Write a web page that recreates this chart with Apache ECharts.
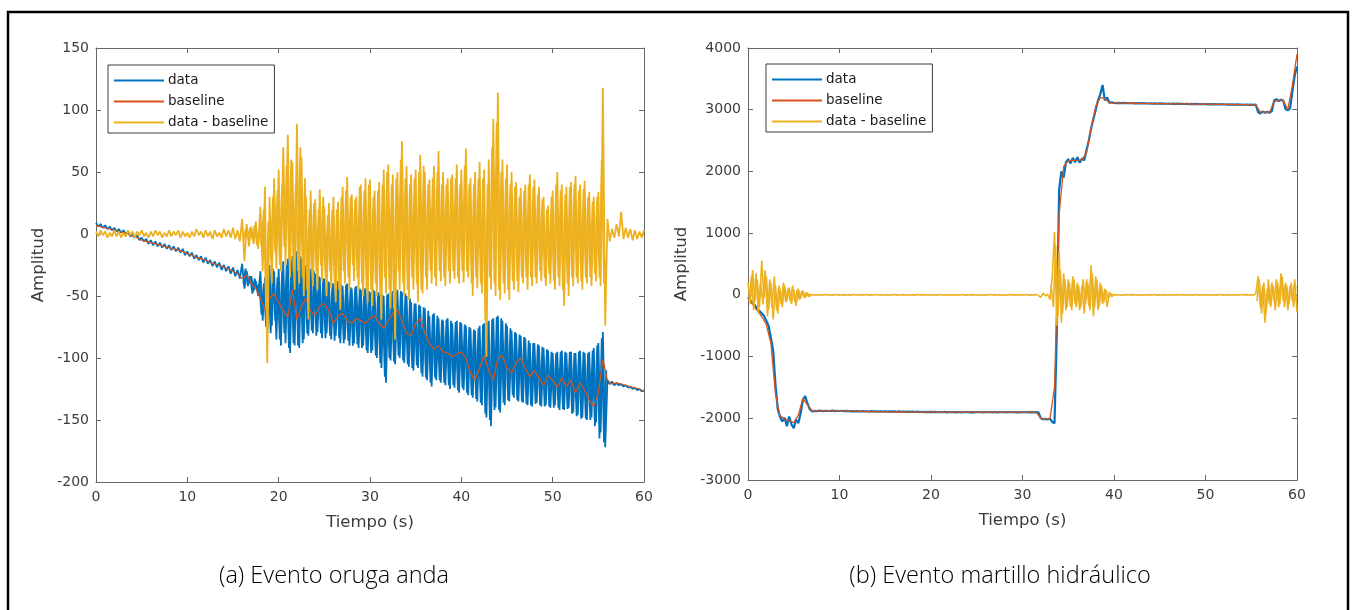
<!DOCTYPE html>
<html>
<head>
<meta charset="utf-8">
<script src="https://cdn.jsdelivr.net/npm/echarts@6/dist/echarts.min.js"></script>
<style>
html,body{margin:0;padding:0;background:#fff;}
#chart{width:1355px;height:610px;}
</style>
</head>
<body>
<div id="chart"></div>
<script>
// ---------------- DATA ----------------
const seriesNames = ['data', 'baseline', 'data - baseline'];
const xTicks = [0, 10, 20, 30, 40, 50, 60];
const yTicksA = [-200, -150, -100, -50, 0, 50, 100, 150];
const yTicksB = [-3000, -2000, -1000, 0, 1000, 2000, 3000, 4000];
const captions = ['(a) Evento oruga anda', '(b) Evento martillo hidráulico'];
const sampleStepFine = 0.25;   // s, for data / data - baseline
const sampleStepCoarse = 0.5;  // s, for baseline
const midStartA = 16.125;      // s, first in-between sample of the dense part of (a)
const midStartsB = [0.125, 33.125, 55.625]; // s, in-between samples of the bursts of (b)

// (a) Evento oruga anda -- data (0.25 s samples)
const dataA = [
  9,6,8,5,7,4,6,3,5,2,
  4,1,3,0,2,-2,0,-3,-1,-5,
  -3,-6,-4,-8,-5,-9,-6,-10,-7,-11,
  -8,-12,-9,-13,-10,-14,-11,-15,-12,-17,
  -14,-18,-15,-20,-17,-21,-18,-23,-19,-24,
  -21,-26,-22,-27,-23,-29,-25,-30,-26,-32,
  -27,-34,-29,-36,
  -24,-44,-30,-40,-34,-46,-38,-50,
  -30,-70,-35,-80,
  -25,-74,-30,-85,
  -28,-90,-22,-88,
  -20,-96,-18,-90,
  -14,-92,-20,-85,
  -30,-82,-28,-80,
  -32,-79,-35,-84,
  -36,-80,-39,-85,
  -40,-82,-38,-88,
  -42,-85,-40,-90,
  -44,-88,-42,-92,
  -45,-90,-44,-96,
  -47,-94,-46,-100,
  -48,-108,-50,-120,
  -48,-102,-46,-105,
  -45,-100,-47,-104,
  -50,-107,-55,-110,
  -56,-108,-58,-115,
  -60,-118,-66,-123,
  -64,-118,-68,-120,
  -70,-122,-68,-125,
  -72,-124,-70,-128,
  -72,-126,-74,-130,
  -76,-132,-78,-135,
  -74,-138,-72,-148,
  -70,-155,-68,-140,
  -66,-144,-70,-138,
  -74,-135,-78,-132,
  -80,-135,-82,-136,
  -84,-138,-88,-139,
  -88,-136,-90,-139,
  -92,-138,-94,-140,
  -96,-138,-95,-142,
  -94,-142,-96,-140,
  -95,-144,-96,-146,
  -94,-148,-96,-150,
  -95,-148,-92,-152,
  -88,-160,-79,-172,
  -118,-121,-119,-122,-120,-122,-121,-123,-122,-124,-123,-125,-124,-126,-125,-127,-126
];
// (a) data, in-between samples of the dense part (16.125 s .. 55.875 s, every 0.25 s)
const dataAMid = [
  -40,-28,-42,-34,  -48,-36,-44,-40,  -65,-40,-75,-30,  -80,-28,-70,-35,
  -85,-30,-80,-25,  -92,-22,-88,-16,  -90,-18,-88,-25,  -80,-32,-78,-30,
  -82,-34,-80,-36,  -84,-38,-82,-40,  -86,-39,-84,-41,  -88,-41,-86,-43,
  -90,-43,-89,-44,  -92,-44,-94,-46,  -96,-45,-98,-47,  -104,-49,-115,-49,
  -100,-47,-103,-46,  -98,-46,-102,-48,  -105,-52,-108,-56,  -106,-57,-112,-59,
  -116,-62,-120,-65,  -116,-66,-118,-69,  -120,-69,-122,-70,  -122,-71,-126,-71,
  -124,-73,-128,-75,  -130,-77,-133,-76,  -136,-73,-145,-71,  -150,-69,-142,-67,
  -142,-68,-136,-72,  -134,-76,-130,-79,  -134,-81,-135,-83,  -137,-86,-138,-88,
  -137,-89,-138,-91,  -139,-93,-139,-95,  -140,-96,-140,-95,  -141,-95,-141,-95,
  -145,-96,-147,-95,  -149,-95,-149,-96,  -150,-94,-155,-90,  -165,-84,-168,-110
];
// (a) baseline (0.5 s samples)
const baselineA = [
  7,6,5,4,3,2,1,0,-2,-3,
  -5,-6,-7,-8,-9,-10,-11,-12,-13,-14,
  -16,-17,-19,-20,-21,-23,-24,-25,-27,-28,
  -30,-32,-36,-33,-40,-44,-52,-61,-52,-48,
  -55,-62,-67,-45,-69,-58,-52,-62,-66,-58,
  -56,-62,-72,-66,-64,-70,-72,-68,-70,-72,
  -68,-66,-72,-76,-70,-64,-61,-70,-80,-82,
  -72,-68,-80,-88,-93,-90,-95,-96,-99,-97,
  -95,-100,-112,-118,-108,-98,-110,-118,-100,-98,
  -108,-112,-104,-100,-108,-115,-110,-116,-122,-114,
  -118,-124,-116,-123,-118,-128,-120,-126,-134,-139,
  -128,-101,-118,-121,-120,-121,-122,-123,-124,-125,
  -127
];
// (a) data - baseline (0.25 s samples)
const diffA = [
  2,-2,3,-1,2,-3,1,-2,3,-2,
  2,-3,1,-2,3,-1,2,-3,2,-1,
  3,-2,1,-3,2,-2,3,-1,2,-3,
  1,-2,3,-2,2,-1,3,-3,2,-2,
  1,-3,2,-2,4,-1,2,-3,3,-2,
  2,-4,3,-2,1,-3,4,-2,3,-3,
  5,-4,3,-6,
  12,-22,8,-10,6,-8,10,-12,
  22,-30,38,-104,
  30,-40,45,-28,
  52,-30,70,-25,
  80,-35,58,-45,
  89,-40,62,-50,
  30,-69,35,-42,
  28,-45,36,-38,
  22,-50,25,-44,
  30,-55,26,-61,
  38,-40,46,-45,
  32,-38,30,-45,
  40,-50,45,-55,
  44,-58,35,-50,
  42,-69,52,-48,
  56,-60,48,-85,
  50,-45,75,-50,
  55,-53,48,-45,
  52,-55,64,-48,
  50,-45,44,-40,
  55,-42,67,-38,
  50,-42,45,-40,
  48,-36,56,-40,
  52,-39,69,-35,
  45,-50,50,-44,
  58,-48,52,-99,
  60,-45,93,-50,
  114,-53,60,-48,
  56,-53,50,-45,
  42,-47,37,-40,
  40,-45,48,-42,
  44,-40,38,-38,
  30,-42,23,-40,
  35,-45,50,-42,
  40,-58,38,-50,
  42,-42,47,-40,
  40,-45,43,-40,
  34,-42,30,-38,
  34,-42,118,-74,
  12,-6,4,-3,8,-2,18,-4,5,-3,4,-5,3,-4,2,-3,3
];
// (a) data - baseline, in-between samples (16.125 s .. 55.875 s, every 0.25 s)
const diffAMid = [
  -6,4,-3,5,  -4,7,-9,4,  -10,20,-60,10,  -20,30,-15,35,
  -25,40,-10,55,  -20,60,-30,40,  -30,70,-35,45,  -45,20,-30,25,
  -30,20,-25,30,  -35,15,-30,20,  -40,20,-45,30,  -30,35,-35,30,
  -25,28,-35,38,  -40,35,-45,40,  -45,30,-40,35,  -50,40,-35,50,
  -45,40,-60,45,  -30,60,-40,45,  -45,40,-35,45,  -40,50,-45,55,
  -35,40,-30,45,  -35,50,-30,40,  -35,40,-30,45,  -30,45,-35,40,
  -30,55,-30,40,  -40,40,-35,45,  -40,45,-70,40,  -35,70,-40,90,
  -45,50,-40,45,  -45,40,-38,38,  -38,30,-35,35,  -35,40,-35,38,
  -35,32,-30,28,  -35,20,-32,30,  -38,40,-35,35,  -45,32,-40,38,
  -35,40,-35,35,  -38,36,-35,30,  -35,26,-32,30,  -35,60,-40,-20
];

// (b) Evento martillo hidráulico -- data (0.25 s samples)
const dataB = [
  -40,-90,-140,-170,-230,-260,-300,-340,-420,-500,-700,-900,
  -1450,-1850,-1980,-2050,-1990,-2130,-1970,-2100,-2160,-2020,-2080,-1920,-1700,-1640,-1760,-1850,
  -1890,-1880,-1885,-1875,-1880,-1885,-1878,-1882,-1880,-1876,-1884,-1880,-1882,-1878,-1884,-1880,
  -1884,-1888,-1883,-1887,-1885,-1890,-1884,-1888,-1886,-1891,-1885,-1889,-1887,-1892,-1886,-1890,-1888,-1893,-1887,-1891,
  -1889,-1894,-1888,-1895,-1890,-1896,-1891,-1897,-1892,-1898,-1893,-1899,-1894,-1899,-1895,-1900,-1896,-1901,-1897,-1902,
  -1898,-1902,-1897,-1903,-1898,-1902,-1899,-1904,-1898,-1903,-1899,-1902,-1898,-1903,-1899,-1904,-1898,-1902,-1899,-1903,
  -1898,-1902,-1899,-1903,-1898,-1904,-1899,-1902,-1898,-1903,-1899,-1902,-1898,-1904,-1899,-1903,-1898,-1902,-1899,-1903,-1900,-1904,-1899,-1905,
  -2000,-2015,-2010,-2020,-2005,-2060,
  -2080,-600,
  1700,2000,1900,2150,
  2200,2130,2220,2150,2230,2140,2210,2180,
  2350,2500,2700,2850,
  3000,3150,3250,3400,
  3150,3200,3110,3120,
  3112,3108,3111,3107,3110,3106,3109,3105,3108,3104,3107,3103,3106,3102,3105,3101,3104,3100,3103,3099,
  3102,3098,3101,3097,3100,3096,3099,3095,3098,3094,3097,3093,3096,3092,3095,3091,3094,3090,3093,3089,
  3092,3088,3091,3087,3090,3086,3089,3085,3088,3084,3087,3083,3086,3082,3085,3081,3084,3080,3083,3079,3082,3078,3081,
  2960,2940,2970,2950,2965,
  2950,2980,
  3150,3170,3140,3160,3150,
  3010,2990,3020,
  3300,3550,3700
];
// (b) baseline (0.5 s samples)
const baselineB = [
  -60,-150,-250,-350,-480,-780,-1600,-1960,-2010,-2040,
  -2070,-1950,-1680,-1780,-1880,-1880,-1880,-1880,-1880,-1880,
  -1880,-1880,-1885,-1885,-1888,-1890,-1890,-1892,-1894,-1895,
  -1896,-1897,-1898,-1898,-1899,-1900,-1900,-1900,-1900,-1900,
  -1900,-1900,-1900,-1900,-1900,-1900,-1900,-1900,-1900,-1900,
  -1900,-1900,-1900,-1900,-1900,-1900,-1900,-1900,-1900,-1900,
  -1900,-1900,-1900,-1900,-2000,-2010,-2010,-1500,1300,2080,
  2170,2180,2180,2190,2300,2700,3050,3200,3180,3110,
  3110,3110,3108,3106,3105,3104,3103,3102,3100,3100,
  3099,3098,3097,3096,3095,3094,3093,3092,3091,3090,
  3090,3089,3088,3087,3086,3085,3084,3083,3082,3081,
  3080,3080,2960,2960,2960,3130,3150,3150,3000,3400,
  3900
];
// (b) data - baseline (0.25 s samples)
const diffB = [
  200,-150,400,-100,250,-200,550,-50,300,-250,200,-400,150,-300,100,-200,150,-100,120,-150,80,-180,100,-60,70,-50,30,-20,
  5,-4,3,-6,4,-3,5,-2,3,-4,6,-3,2,-5,4,-3,3,-4,5,-2,
  3,-5,4,-2,6,-4,3,-3,5,-2,4,-5,3,-4,2,-3,5,-4,3,-2,
  4,-3,2,-5,3,-4,6,-3,4,-2,3,-5,4,-3,2,-4,5,-3,3,-4,
  2,-3,4,-5,3,-2,5,-4,3,-3,4,-2,3,-5,2,-4,3,-3,5,-2,
  4,-3,3,-5,2,-4,5,-3,4,-2,3,-4,2,-3,5,-4,3,-5,8,-12,
  -40,30,-20,10,-80,300,1020,-500,
  700,-450,350,-250,
  250,-200,300,-150,
  200,-250,150,-300,
  250,-180,480,-350,
  300,-250,200,-150,
  100,-200,50,-30,
  4,-3,3,-5,2,-4,5,-3,4,-2,3,-4,2,-5,3,-3,4,-2,5,-4,
  3,-2,4,-5,3,-3,2,-4,5,-3,4,-2,3,-4,2,-3,5,-4,3,-2,
  4,-3,2,-5,3,-4,5,-2,3,-3,4,-5,2,-4,3,-3,5,-2,4,-3,3,-4,
  20,300,-200,150,-450,100,-150,200,-100,250,-200,350,-100,200,-250,150,-100,250,-280
];
// (b) data - baseline, in-between samples of the three bursts (every 0.25 s)
const diffBMid1 = [
  -100,300,-250,350,-300,200,-150,400,-350,250,-200,300,-250,150,
  -150,200,-120,100,-100,150,-120,80,-80,60,-40,40,-30,15
];
const diffBMid2 = [
  150,-200,800,-350,400,-300,250,-200,200,-250,250,-200,150,-200,
  250,-150,200,-250,350,-200,250,-200,150,-120,80,-60,20,-10
];
const diffBMid3 = [
  -100,250,-300,200,-300,250,-200,150,-250,200,-150,300,-200,150,-150,200,-200,150
];

// ---------------- CHART ----------------
function withTime(values, step, start) {
  const t0 = start || 0;
  return values.map((v, i) => [t0 + i * step, v]);
}
const colors = { data: '#0072BD', baseline: '#D95319', diff: '#EDB120' };
const tickFont = "'DejaVu Sans', 'Liberation Sans', sans-serif";
const axisCol = '#666666';
const textCol = '#3c3c3c';
const grids = [
  { left: 96, top: 48, width: 548, height: 434 },
  { left: 748, top: 48, width: 549, height: 432 }
];
const yTicksList = [yTicksA, yTicksB];
const widths = [
  { data: 1.8, base: 1.2, diff: 1.8 },
  { data: 2.2, base: 1.3, diff: 1.6 }
];

const xAxes = [], yAxes = [], series = [], legends = [];
[0, 1].forEach(g => {
  const baseX = {
    gridIndex: g, type: 'value', min: xTicks[0], max: xTicks[xTicks.length - 1],
    interval: xTicks[1] - xTicks[0],
    axisLine: { show: true, onZero: false, lineStyle: { color: axisCol, width: 1 } },
    axisTick: { show: true, inside: true, length: 5, lineStyle: { color: axisCol } },
    splitLine: { show: false }
  };
  xAxes.push(Object.assign({}, baseX, {
    position: 'bottom',
    axisLabel: { show: true, color: textCol, fontSize: 14, fontFamily: tickFont, margin: 8, formatter: v => String(v) },
    name: 'Tiempo (s)', nameLocation: 'middle', nameGap: 32,
    nameTextStyle: { color: textCol, fontSize: 16.5, fontFamily: tickFont }
  }));
  xAxes.push(Object.assign({}, baseX, { position: 'top', axisLabel: { show: false } }));
  const yt = yTicksList[g];
  const baseY = {
    gridIndex: g, type: 'value', min: yt[0], max: yt[yt.length - 1], interval: yt[1] - yt[0],
    axisLine: { show: true, onZero: false, lineStyle: { color: axisCol, width: 1 } },
    axisTick: { show: true, inside: true, length: 5, lineStyle: { color: axisCol } },
    splitLine: { show: false }
  };
  yAxes.push(Object.assign({}, baseY, {
    position: 'left',
    axisLabel: { show: true, color: textCol, fontSize: 14, fontFamily: tickFont, margin: 7, formatter: v => String(v) },
    name: 'Amplitud', nameLocation: 'middle', nameRotate: 90, nameGap: g === 0 ? 49 : 58,
    nameTextStyle: { color: textCol, fontSize: 16.5, fontFamily: tickFont }
  }));
  yAxes.push(Object.assign({}, baseY, { position: 'right', axisLabel: { show: false } }));
});

function lineSeries(g, name, data, color, width, z) {
  return {
    type: 'line', name: name, xAxisIndex: g * 2, yAxisIndex: g * 2, data: data,
    showSymbol: false, symbol: 'none', animation: false, silent: true,
    lineStyle: { color: color, width: width }, itemStyle: { color: color }, z: z
  };
}
// (a)
series.push(lineSeries(0, seriesNames[0], withTime(dataA, sampleStepFine), colors.data, widths[0].data, 2));
series.push(lineSeries(0, seriesNames[0], withTime(dataAMid, sampleStepFine, midStartA), colors.data, widths[0].data, 2));
series.push(lineSeries(0, seriesNames[1], withTime(baselineA, sampleStepCoarse), colors.baseline, widths[0].base, 3));
series.push(lineSeries(0, seriesNames[2], withTime(diffA, sampleStepFine), colors.diff, widths[0].diff, 4));
series.push(lineSeries(0, seriesNames[2], withTime(diffAMid, sampleStepFine, midStartA), colors.diff, widths[0].diff, 4));
// (b)
series.push(lineSeries(1, seriesNames[0], withTime(dataB, sampleStepFine), colors.data, widths[1].data, 2));
series.push(lineSeries(1, seriesNames[1], withTime(baselineB, sampleStepCoarse), colors.baseline, widths[1].base, 3));
series.push(lineSeries(1, seriesNames[2], withTime(diffB, sampleStepFine), colors.diff, widths[1].diff, 4));
[diffBMid1, diffBMid2, diffBMid3].forEach((arr, k) => {
  series.push(lineSeries(1, seriesNames[2], withTime(arr, sampleStepFine, midStartsB[k]), colors.diff, widths[1].diff, 4));
});

[108, 766].forEach((lx, g) => {
  legends.push({
    orient: 'vertical', left: lx, top: g === 0 ? 65 : 64,
    data: seriesNames, icon: 'rect', itemWidth: 50, itemHeight: 2, itemGap: 6,
    padding: [8, 6, 3, 6], backgroundColor: '#fff', borderColor: '#3a3a3a', borderWidth: 1,
    selectedMode: false,
    textStyle: { color: '#1a1a1a', fontSize: 13.5, fontFamily: tickFont, lineHeight: 15, padding: [0, 0, 0, -1] }
  });
});

const captionStyle = { fill: '#000', fontSize: 23.5, fontWeight: 300, fontFamily: "'Open Sans', 'Noto Sans', sans-serif", textAlign: 'center', textVerticalAlign: 'middle' };
const chart = echarts.init(document.getElementById('chart'), null, { renderer: 'canvas' });
chart.setOption({
  backgroundColor: '#fff',
  animation: false,
  grid: grids,
  xAxis: xAxes,
  yAxis: yAxes,
  legend: legends,
  series: series,
  graphic: [
    { type: 'rect', shape: { x: 8, y: 12, width: 1340, height: 640 }, style: { fill: 'none', stroke: '#000', lineWidth: 2.5 }, silent: true },
    { type: 'text', x: 334, y: 576, style: Object.assign({ text: captions[0] }, captionStyle) },
    { type: 'text', x: 1000, y: 576, style: Object.assign({ text: captions[1] }, captionStyle) }
  ]
});
</script>
</body>
</html>
